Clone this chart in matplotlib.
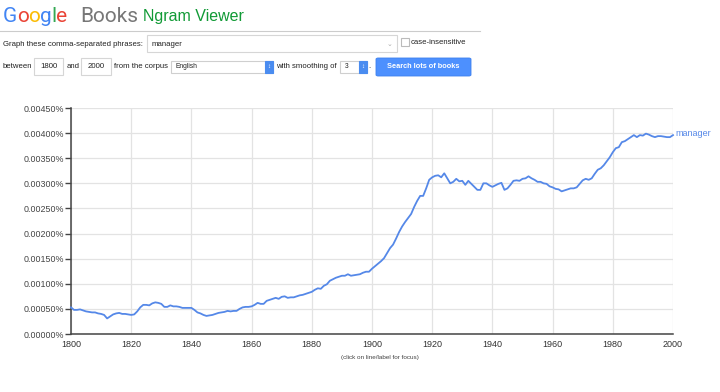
import numpy as np
import matplotlib
matplotlib.use("Agg")
import matplotlib.pyplot as plt
from matplotlib.patches import Rectangle, FancyBboxPatch
from matplotlib.lines import Line2D
from matplotlib.ticker import FuncFormatter, MultipleLocator

plt.rcParams['font.family'] = ['Liberation Sans', 'DejaVu Sans']

# ngram frequency of "manager", in units of 1e-5 percent, one value per year 1800..2000
years = np.arange(1800, 2001)
freq = [
    53, 48, 48, 49, 47, 45, 44, 43, 43, 41,          # 1800s
    40, 38, 31, 35, 39, 41, 42, 40, 40, 39,          # 1810s
    38, 39, 45, 53, 58, 58, 57, 61, 63, 62,          # 1820s
    60, 54, 54, 57, 55, 55, 54, 52, 52, 52,          # 1830s
    52, 48, 43, 41, 38, 36, 37, 38, 40, 42,          # 1840s
    43, 44, 46, 45, 46, 46, 50, 53, 54, 54,          # 1850s
    55, 58, 62, 60, 60, 66, 68, 70, 72, 70,          # 1860s
    74, 75, 72, 73, 73, 75, 77, 78, 80, 82,          # 1870s
    84, 88, 91, 90, 96, 99, 106, 109, 112, 114,      # 1880s
    116, 116, 119, 116, 117, 118, 119, 122, 124, 124,  # 1890s
    130, 135, 140, 145, 151, 161, 171, 178, 190, 203,  # 1900s
    214, 223, 231, 239, 253, 265, 275, 275, 290, 307,  # 1910s
    312, 315, 316, 312, 320, 310, 300, 303, 309, 304,  # 1920s
    305, 297, 305, 299, 293, 287, 287, 300, 300, 296,  # 1930s
    293, 296, 299, 301, 287, 290, 297, 305, 306, 305,  # 1940s
    309, 310, 314, 310, 307, 303, 303, 300, 299, 294,  # 1950s
    292, 289, 288, 284, 286, 288, 290, 290, 292, 299,  # 1960s
    306, 309, 307, 310, 319, 327, 330, 336, 344, 352,  # 1970s
    362, 370, 372, 382, 384, 388, 392, 396, 392, 396,  # 1980s
    395, 399, 397, 394, 392, 394, 394, 393, 392, 392,  # 1990s
    396,
]
phrase = "manager"
y_ticks = np.arange(0, 0.00451, 0.0005)
x_ticks = [1800, 1820, 1840, 1860, 1880, 1900, 1920, 1940, 1960, 1980, 2000]

W, H = 720, 392
fig = plt.figure(figsize=(W / 100, H / 100), dpi=100)
fig.patch.set_facecolor('white')


def px(x, y):
    return x / W, 1 - y / H


def ftext(x, y, s, **kw):
    return fig.text(*px(x, y), s, **kw)


def fbox(x0, y0, x1, y1, fc='white', ec='#d6d6d6', lw=0.8):
    fig.add_artist(Rectangle(px(x0, y1), (x1 - x0) / W, (y1 - y0) / H,
                             transform=fig.transFigure, fc=fc, ec=ec, lw=lw))


# header logo
fig.canvas.draw()
renderer = fig.canvas.get_renderer()
cx = 3
for ch, col in zip("Google", ['#4285F4', '#EA4335', '#FBBC05', '#4285F4', '#34A853', '#EA4335']):
    t = ftext(cx, 22, ch, fontsize=15, color=col, family=['Roboto'], va='baseline')
    cx = t.get_window_extent(renderer).x1 - 0.3
ftext(80, 22, "Books", fontsize=15, color='#777777', family=['Roboto'], va='baseline')
ftext(143, 21, "Ngram Viewer", fontsize=11.5, color='#119a36', va='baseline')
fig.add_artist(Line2D([0, 480 / W], [1 - 31 / H] * 2, transform=fig.transFigure,
                      color='#cccccc', lw=0.8))

# form row 1
fs = 5.6
ftext(3, 44, "Graph these comma-separated phrases:", fontsize=fs, color='#222', va='center')
fbox(147, 35, 397, 52)
ftext(152, 44, phrase, fontsize=fs, color='#222', va='center')
ftext(389, 45, "\u2304", fontsize=5, color='#aaa', va='center', ha='center')
fbox(401, 38, 409, 46, ec='#bbbbbb')
ftext(411, 43, "case-insensitive", fontsize=fs, color='#222', va='center')

# form row 2
ftext(3, 67, "between", fontsize=fs, color='#222', va='center')
fbox(34, 58, 63, 75)
ftext(48.5, 67, "1800", fontsize=fs, color='#222', va='center', ha='center')
ftext(67, 67, "and", fontsize=fs, color='#222', va='center')
fbox(81, 58, 111, 75)
ftext(96, 67, "2000", fontsize=fs, color='#222', va='center', ha='center')
ftext(114, 66, "from the corpus", fontsize=fs, color='#222', va='center')
fbox(171, 61, 273, 73, ec='#cfcfcf')
ftext(176, 67, "English", fontsize=4.8, color='#222', va='center')
fbox(265, 61, 273, 73, fc='#4a8cf0', ec='#4a8cf0')
ftext(269, 67, "\u2195", fontsize=4.5, color='white', va='center', ha='center')
ftext(276, 66, "with smoothing of", fontsize=fs, color='#222', va='center')
fbox(340, 61, 367, 73, ec='#cfcfcf')
ftext(345, 67, "3", fontsize=4.8, color='#222', va='center')
fbox(359, 61, 367, 73, fc='#4a8cf0', ec='#4a8cf0')
ftext(363, 67, "\u2195", fontsize=4.5, color='white', va='center', ha='center')
ftext(368, 67, ".", fontsize=fs, color='#222', va='center')
fig.add_artist(FancyBboxPatch(px(376, 76), 95 / W, 18 / H, boxstyle='round,pad=0,rounding_size=0.003',
                              transform=fig.transFigure, fc='#4d90fe', ec='#3d80ee', lw=0.6))
ftext(423.5, 67, "Search lots of books", fontsize=5.3, color='white', weight='bold',
      va='center', ha='center')

# chart
ax = fig.add_axes([71 / W, (H - 334) / H, 602 / W, 226 / H])
vals = np.array(freq) * 1e-5
line_col = '#5588e8'
ax.plot(years, vals, color=line_col, lw=1.3, zorder=3, clip_on=False)
ax.annotate(phrase, (years[-1], vals[-1]), xytext=(2, 1), textcoords='offset points',
            fontsize=6.5, color=line_col, va='center', ha='left')

ax.set_xlim(1800, 2000)
ax.set_ylim(0, 0.0045)
ax.set_xticks(x_ticks)
ax.set_yticks(y_ticks)
ax.yaxis.set_major_formatter(FuncFormatter(lambda v, p: '%.5f%%' % v))
ax.grid(True, color='#e3e3e3', lw=0.9, zorder=0)
ax.set_axisbelow(True)
for s in ['top', 'right']:
    ax.spines[s].set_visible(False)
for s in ['left', 'bottom']:
    ax.spines[s].set_color('#444444')
    ax.spines[s].set_linewidth(1.1)
ax.tick_params(axis='y', length=4, width=1, color='#444444', labelsize=6.4,
               labelcolor='#444444', pad=1)
ax.tick_params(axis='x', length=0, labelsize=6.5, labelcolor='#333333', pad=4)

ftext(380, 357, "(click on line/label for focus)", fontsize=4.6, color='#444', ha='center', va='center')

fig.savefig('out.png', dpi=100, facecolor='white')
